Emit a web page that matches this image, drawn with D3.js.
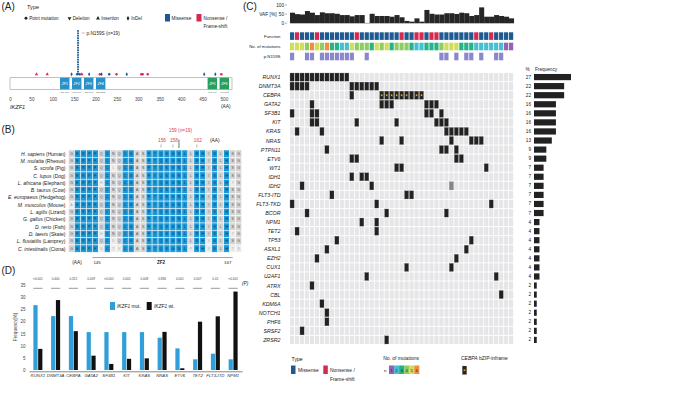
<!DOCTYPE html>
<html>
<head>
<meta charset="utf-8">
<script src="https://cdn.jsdelivr.net/npm/d3@7"></script>
<style>
  body { margin: 0; background: #fff; }
  svg { display: block; font-family: "Liberation Sans", Arial, sans-serif; }
</style>
</head>
<body>
<svg id="fig" width="675" height="406"></svg>
<script>
// ---- (A) IKZF1 protein ----
const aaTicks = [0, 50, 100, 150, 200, 250, 300, 350, 400, 450, 500];
const proteinLength = 519;
const zfNames = ["ZF1", "ZF2", "ZF3", "ZF4", "ZF5", "ZF6"];
const zfStart = [117, 145, 173, 201, 462, 490];
const zfEnd = [139, 167, 195, 223, 484, 512];
const mutAA = [62, 87, 144, 157, 163, 168, 185, 210, 214, 232, 249, 273, 307, 310, 322, 454, 480, 494];
const mutType = ["Insertion", "Insertion", "InDel", "Point mutation", "Point mutation", "Insertion",
  "InDel", "Point mutation", "InDel", "Point mutation", "Point mutation", "InDel",
  "Point mutation", "Point mutation", "Point mutation", "InDel", "InDel", "Point mutation"];
const mutFunc = ["Nonsense", "Nonsense", "Missense", "Missense", "Missense", "Nonsense",
  "Missense", "Nonsense", "Missense", "Missense", "Nonsense", "Missense",
  "Nonsense", "Nonsense", "Nonsense", "Missense", "Missense", "Nonsense"];
const hotspotAA = 159;
const hotspotN = 19;

// ---- (B) alignment ----
const speciesSci = ["H. sapiens", "M. mulatta", "S. scrofa", "C. lupus", "L. africana", "B. taurus",
  "E. europaeus", "M. musculus", "L. agilis", "G. gallus", "D. rerio", "D. laevis", "L. fluviatilis", "C. intestinalis"];
const speciesCommon = ["Human", "Rhesus", "Pig", "Dog", "Elephant", "Cow", "Hedgehog", "Mouse",
  "Lizard", "Chicken", "Fish", "Skate", "Lamprey", "Ciona"];
const alignSeqs = [
  "GERPFQCNQCGASFTQKGNLLRHIKLHSG",
  "GERPFQCNQCGASFTQKGNLLRHIKLHSG",
  "GERPFQCLQCGASFTQKGNLLRHIKLHSG",
  "GERPFQCNQCGASFTQKGNLLRHIKLHSG",
  "GERPFHCNQCGASFTQKGNLLRHIKLHTG",
  "GERPFQCNQCGASFTQKGNLLRHIKLHSG",
  "GERPFQCNQCGASFTQKGNLLRHIKLHSG",
  "AERPFQCNQCGASFTQKGNLLRHIKLHSG",
  "GERPFQCNQCGASFTQKGNLLRHIKLHSG",
  "GERPFQCNQCGASFTQKGNLLRHIKLHSG",
  "GERPFQCNQCGASFTQKGNLLRHIKLHSG",
  "GERPFHCNQCGASFTQKGNLLRHIKLHTG",
  "GERPFQCDQCGASFTQKGNLLRHVKLHSG",
  "GERPFSCTVCGASFTQKGNLPRHVKLHTS"
];
const alignStart = 141;
const conserved = "01111010011001111111011010100";
const markedAA = [156, 158, 162];

// ---- (C) oncoprint ----
const nPatients = 45;
const vaf = [58, 50, 48, 67, 58, 45, 60, 55, 55, 52, 45, 45, 38, 45, 45, 2, 52, 40, 40, 40, 36, 45, 33,
  13, 9, 27, 9, 73, 52, 48, 48, 55, 55, 51, 58, 55, 40, 45, 87, 36, 36, 45, 40, 36, 27];
const nonsenseCols = [1, 5, 13, 22, 25, 26, 28, 29, 37, 40];
const nMutations = [5, 5, 5, 4, 6, 5, 4, 6, 3, 3, 2, 2, 5, 4, 4, 4, 3, 5, 4, 5, 3, 4, 4, 4, 3, 2, 2,
  3, 3, 3, 4, 5, 5, 5, 3, 3, 3, 2, 2, 2, 2, 2, 2, 1, 1];
const n159sCols = [0, 3, 4, 6, 7, 8, 9, 10, 11, 12, 15, 30, 31, 33, 35, 36, 38, 41, 42];
const cGenes = ["RUNX1", "DNMT3A", "CEBPA", "GATA2", "SF3B1", "KIT", "KRAS", "NRAS", "PTPN11", "ETV6",
  "WT1", "IDH1", "IDH2", "FLT3-ITD", "FLT3-TKD", "BCOR", "NPM1", "TET2", "TP53", "ASXL1", "EZH2",
  "CUX1", "U2AF1", "ATRX", "CBL", "KDM6A", "NOTCH1", "PHF6", "SRSF2", "ZRSR2"];
const cFreq = [27, 22, 22, 16, 16, 16, 16, 13, 9, 9, 7, 7, 7, 7, 7, 7, 4, 4, 4, 4, 4, 4, 4, 2, 2, 2, 2, 2, 2, 2];
const cMutCols = [
  [0, 1, 2, 3, 4, 5, 6, 7, 8, 9, 10, 11],
  [0, 1, 2, 3, 12, 13, 14, 15, 16, 17],
  [12, 18, 19, 20, 21, 22, 23, 24, 25, 26],
  [4, 18, 19, 20, 27, 28, 29],
  [0, 4, 5, 27, 28, 30],
  [4, 5, 13, 21, 29, 30, 31],
  [1, 6, 31, 32, 33, 34, 35],
  [18, 22, 32, 36, 37, 38],
  [7, 30, 31, 33],
  [12, 13, 33, 34],
  [21, 22, 39],
  [12, 14, 15],
  [2, 16, 32],
  [8, 23, 24],
  [0, 17, 40],
  [3, 19, 31],
  [14, 17],
  [1, 17],
  [9, 36],
  [7, 35],
  [5, 33],
  [23, 32],
  [15, 41],
  [4],
  [42],
  [6],
  [7],
  [7],
  [2],
  [19]
];
const cebpaInframeCols = [18, 19, 20, 21, 22, 23, 25, 26];
const subclonalCells = [["IDH2", 32]];

// ---- (D) co-mutation frequency ----
const dGenes = ["RUNX1", "DNMT3A", "CEBPA", "GATA2", "SF3B1", "KIT", "KRAS", "NRAS", "ETV6", "TET2", "FLT3-ITD", "NPM1"];
const dMut = [26.7, 22.2, 22.2, 15.6, 15.6, 15.6, 15.6, 13.3, 8.9, 4.4, 6.7, 4.4];
const dWt = [8.7, 28.8, 16.0, 5.9, 2.5, 4.6, 4.8, 15.7, 0.7, 19.9, 22.1, 32.3];
const dP = ["<0.001", "0.400", "0.312", "0.009", "<0.001", "0.005", "0.008", "0.836", "0.001", "0.007", "0.01", "<0.001"];
const dTicks = [0, 5, 10, 15, 20, 25, 30, 35];

const missenseColor = "#1d5a92";
const nonsenseColor = "#d6294f";
const zfBlue = "#2a90c9";
const zfGreen = "#27a05d";
const mutCountColors = ["#9660b4", "#48bfd0", "#27b38a", "#8fcd64", "#d3dd5c", "#f28c3f"];
const textColor = "#222";

const svg = d3.select("#fig");
svg.append("rect").attr("width", 675).attr("height", 406).attr("fill", "#fff");

function txt(g, x, y, s, size, anchor) {
  return g.append("text")
    .attr("x", x).attr("y", y)
    .attr("font-size", size)
    .attr("fill", textColor)
    .attr("text-anchor", anchor || "start")
    .attr("dominant-baseline", "central")
    .text(s);
}

function symbolPath(type, size) {
  let shape = d3.symbolCircle;
  if (type === "Insertion" || type === "Deletion") shape = d3.symbolTriangle;
  if (type === "InDel") shape = d3.symbolDiamond;
  return d3.symbol().type(shape).size(size)();
}

// ================= (A) =================
const gA = svg.append("g");
txt(gA, 1.5, 6.5, "(A)", 10);
txt(gA, 27, 6.5, "Type", 5.6);

const legendTypes = ["Point mutation", "Deletion", "Insertion", "InDel"];
const legendTypeX = [26, 69.5, 98, 128];
legendTypes.forEach(function (t, i) {
  gA.append("path")
    .attr("d", symbolPath(t, 6.5))
    .attr("transform", "translate(" + legendTypeX[i] + ",18.3)" + (t === "Deletion" ? " rotate(180)" : ""))
    .attr("fill", "#222");
  txt(gA, legendTypeX[i] + 3.2, 18.3, t, 4.6);
});

gA.append("rect").attr("x", 165).attr("y", 14).attr("width", 5).attr("height", 7.5).attr("fill", missenseColor);
txt(gA, 171.5, 18, "Missense", 4.7);
gA.append("rect").attr("x", 196.5).attr("y", 14).attr("width", 5).attr("height", 7.5).attr("fill", nonsenseColor);
txt(gA, 203.5, 18, "Nonsense /", 4.7);
txt(gA, 203.5, 26, "Frame-shift", 4.7);

const xAA = d3.scaleLinear().domain([0, proteinLength]).range([10, 232]);

gA.append("rect")
  .attr("x", xAA(0)).attr("y", 77.7)
  .attr("width", xAA(proteinLength) - xAA(0)).attr("height", 11.6)
  .attr("fill", "#fff").attr("stroke", "#9a9a9a").attr("stroke-width", 0.6);

zfNames.forEach(function (name, i) {
  let x0 = xAA(zfStart[i]), x1 = xAA(zfEnd[i]);
  gA.append("rect")
    .attr("x", x0).attr("y", 77.7)
    .attr("width", x1 - x0).attr("height", 11.6)
    .attr("fill", i < 4 ? zfBlue : zfGreen);
  gA.append("text")
    .attr("x", (x0 + x1) / 2).attr("y", 83.5)
    .attr("font-size", 3.5).attr("fill", "#fff").attr("font-style", "italic")
    .attr("text-anchor", "middle").attr("dominant-baseline", "central")
    .text(name);
  gA.append("text")
    .attr("x", (x0 + x1) / 2).attr("y", 92.6)
    .attr("font-size", 2.4).attr("fill", "#555")
    .attr("text-anchor", "middle").attr("dominant-baseline", "central")
    .text(zfStart[i] + "  " + zfEnd[i]);
});

const axA = gA.append("g")
  .attr("transform", "translate(0,96)")
  .call(d3.axisBottom(xAA).tickValues(aaTicks).tickSize(0).tickPadding(1.4));
axA.select(".domain").remove();
axA.selectAll("text").attr("font-size", 4.6).attr("fill", "#444").attr("font-family", null);

txt(gA, 10, 106.7, "IKZF1", 5.6).attr("font-style", "italic");
txt(gA, 221, 106.7, "(AA)", 4.8);

mutAA.forEach(function (aa, i) {
  gA.append("path")
    .attr("d", symbolPath(mutType[i], 4.6))
    .attr("transform", "translate(" + xAA(aa) + ",74.2)")
    .attr("fill", mutFunc[i] === "Missense" ? missenseColor : nonsenseColor);
});

d3.range(hotspotN).forEach(function (i) {
  gA.append("rect")
    .attr("x", xAA(hotspotAA) - 0.9).attr("y", 73.3 - i * 2.4)
    .attr("width", 1.8).attr("height", 1.7)
    .attr("fill", missenseColor);
});
gA.append("line")
  .attr("x1", 81.5).attr("x2", 85).attr("y1", 33).attr("y2", 33)
  .attr("stroke", "#666").attr("stroke-width", 0.4);
txt(gA, 86.5, 33, "p.N159S (n=" + hotspotN + ")", 4.7);

// ================= (B) =================
const gB = svg.append("g");
txt(gB, 1.5, 129, "(B)", 10);

const alignCols = d3.range(alignStart, alignStart + conserved.length);
const xAl = d3.scaleBand().domain(alignCols).range([68.5, 68.5 + conserved.length * 5.97]);
const yAl = d3.scaleBand().domain(speciesCommon).range([150, 150 + speciesCommon.length * 7.3]);

speciesCommon.forEach(function (sp, r) {
  let seq = alignSeqs[r];
  let label = gB.append("text")
    .attr("x", 65.5).attr("y", yAl(sp) + yAl.bandwidth() / 2)
    .attr("font-size", 5).attr("fill", textColor)
    .attr("text-anchor", "end").attr("dominant-baseline", "central");
  label.append("tspan").attr("font-style", "italic").text(speciesSci[r]);
  label.append("tspan").text(" (" + sp + ")");

  alignCols.forEach(function (aa, c) {
    let isCons = conserved[c] === "1";
    let same = seq[c] === alignSeqs[0][c];
    let fill = isCons ? (same ? "#1b98d5" : "#9fd2ee") : (same ? "#d3d3d3" : "#ececec");
    gB.append("rect")
      .attr("x", xAl(aa)).attr("y", yAl(sp))
      .attr("width", xAl.bandwidth()).attr("height", yAl.bandwidth())
      .attr("fill", fill).attr("stroke", "#fff").attr("stroke-width", 0.5);
    gB.append("text")
      .attr("x", xAl(aa) + xAl.bandwidth() / 2).attr("y", yAl(sp) + yAl.bandwidth() / 2)
      .attr("font-size", 3.4)
      .attr("fill", isCons ? "#0d2c45" : (same ? "#555" : "#aaa"))
      .attr("text-anchor", "middle").attr("dominant-baseline", "central")
      .text(seq[c]);
  });
});

let hotX = xAl(hotspotAA) + xAl.bandwidth() / 2;
gB.append("text")
  .attr("x", hotX + 1.5).attr("y", 130.5)
  .attr("font-size", 4.8).attr("fill", "#e03a55")
  .attr("text-anchor", "middle").attr("dominant-baseline", "central")
  .text(hotspotAA + " (n=" + hotspotN + ")");
gB.append("rect")
  .attr("x", hotX - 0.7).attr("y", 139.5)
  .attr("width", 1.4).attr("height", 8.5).attr("fill", "#9a9a9a");
markedAA.forEach(function (aa) {
  let cx = xAl(aa) + xAl.bandwidth() / 2;
  gB.append("text")
    .attr("x", cx + 1).attr("y", 140.3)
    .attr("font-size", 4.8).attr("fill", "#e03a55")
    .attr("text-anchor", "middle").attr("dominant-baseline", "central")
    .text(aa);
  gB.append("line")
    .attr("x1", cx).attr("x2", cx).attr("y1", 144.5).attr("y2", 147.5)
    .attr("stroke", "#666").attr("stroke-width", 0.5);
});
txt(gB, 210, 140.3, "(AA)", 4.8);

let zf2Left = xAl(zfStart[1]);
let zf2Right = xAl(zfEnd[1]) + xAl.bandwidth();
gB.append("line")
  .attr("x1", zf2Left).attr("x2", zf2Right + 3).attr("y1", 257.5).attr("y2", 257.5)
  .attr("stroke", "#666").attr("stroke-width", 0.6);
txt(gB, 77, 262, "(AA)", 4.8, "middle");
txt(gB, zf2Left + 1, 262, zfStart[1], 4.4);
txt(gB, (zf2Left + zf2Right) / 2, 262, "ZF2", 4.6, "middle").attr("font-weight", "bold");
txt(gB, zf2Right - 2, 262, zfEnd[1], 4.4, "middle");

// ================= (C) =================
const gC = svg.append("g");
txt(gC, 243, 6.5, "(C)", 10);

const xC = d3.scaleBand().domain(d3.range(nPatients)).range([290, 514]);
const yC = d3.scaleBand().domain(cGenes).range([73, 344]).paddingInner(0.1);
const cw = xC.bandwidth() - 0.8;

const yVaf = d3.scaleLinear().domain([0, 100]).range([23.3, 5]);
gC.selectAll(".vaf")
  .data(vaf)
  .enter().append("rect")
  .attr("x", (d, i) => xC(i))
  .attr("y", d => yVaf(d))
  .attr("width", xC.bandwidth() + 0.05)
  .attr("height", d => yVaf(0) - yVaf(d))
  .attr("fill", "#262626");
[0, 50, 100].forEach(function (t) {
  txt(gC, 284, yVaf(t), t, 4.7, "end");
  gC.append("line").attr("x1", 285).attr("x2", 287).attr("y1", yVaf(t)).attr("y2", yVaf(t))
    .attr("stroke", "#444").attr("stroke-width", 0.4);
});
txt(gC, 276.5, 14, "VAF [%]", 4.8, "end");

const trackY = [32.3, 42.7, 52.7];
const trackH = 7.6;
txt(gC, 280.5, trackY[0] + trackH / 2, "Function", 4.3, "end");
txt(gC, 280.5, trackY[1] + trackH / 2, "No. of mutations", 4.3, "end");
txt(gC, 280.5, trackY[2] + trackH / 2, "p.N159S", 4.3, "end");

d3.range(nPatients).forEach(function (i) {
  gC.append("rect")
    .attr("x", xC(i)).attr("y", trackY[0]).attr("width", cw).attr("height", trackH)
    .attr("fill", nonsenseCols.indexOf(i) >= 0 ? nonsenseColor : missenseColor);
  gC.append("rect")
    .attr("x", xC(i)).attr("y", trackY[1]).attr("width", cw).attr("height", trackH)
    .attr("fill", mutCountColors[nMutations[i] - 1]);
  if (n159sCols.indexOf(i) >= 0) {
    gC.append("rect")
      .attr("x", xC(i)).attr("y", trackY[2]).attr("width", cw).attr("height", trackH)
      .attr("fill", "#8b87cc");
  }
});

cGenes.forEach(function (gene, r) {
  txt(gC, 280.5, yC(gene) + yC.bandwidth() / 2, gene, 5.3, "end").attr("font-style", "italic");
  d3.range(nPatients).forEach(function (i) {
    let hit = cMutCols[r].indexOf(i) >= 0;
    let sub = subclonalCells.some(s => s[0] === gene && s[1] === i);
    gC.append("rect")
      .attr("x", xC(i)).attr("y", yC(gene))
      .attr("width", cw).attr("height", yC.bandwidth())
      .attr("fill", sub ? "#858585" : (hit ? "#222" : "#e6e6e8"))
      .attr("stroke", hit || sub ? "#8a8a8a" : "none").attr("stroke-width", 0.3);
    if (gene === "CEBPA" && cebpaInframeCols.indexOf(i) >= 0) {
      gC.append("path")
        .attr("d", d3.symbol().type(d3.symbolStar).size(2.6)())
        .attr("transform", "translate(" + (xC(i) + cw / 2) + "," + (yC(gene) + yC.bandwidth() / 2) + ")")
        .attr("fill", "#f5b316");
    }
  });
});

const xFreq = d3.scaleLinear().domain([0, 27]).range([534, 571]);
txt(gC, 525.5, 69, "%", 4.7);
txt(gC, 535, 69, "Frequency", 4.7);
cGenes.forEach(function (gene, r) {
  let cy = yC(gene) + yC.bandwidth() / 2;
  txt(gC, 531, cy, cFreq[r], 4.7, "end");
  gC.append("rect")
    .attr("x", xFreq(0)).attr("y", cy - 3.1)
    .attr("width", xFreq(cFreq[r]) - xFreq(0)).attr("height", 6.2)
    .attr("fill", "#222");
});

// legend
txt(gC, 291.5, 358.5, "Type", 5.2);
gC.append("rect").attr("x", 291).attr("y", 365.5).attr("width", 4.5).attr("height", 8.5).attr("fill", missenseColor);
txt(gC, 298, 370, "Missense", 4.9);
gC.append("rect").attr("x", 323.3).attr("y", 365.5).attr("width", 4.5).attr("height", 8.5).attr("fill", nonsenseColor);
txt(gC, 330, 370, "Nonsense /", 4.9);
txt(gC, 330, 379.3, "Frame-shift", 4.9);

txt(gC, 383.3, 358.5, "No. of mutations", 4.9);
txt(gC, 385.3, 370, "n", 4.4, "middle");
mutCountColors.forEach(function (col, i) {
  gC.append("rect").attr("x", 389 + i * 5.05).attr("y", 365.5).attr("width", 5.05).attr("height", 8.5).attr("fill", col);
  txt(gC, 389 + i * 5.05 + 2.5, 370, i + 1, 4.3, "middle");
});

let cebLegend = gC.append("text").attr("x", 461).attr("y", 358).attr("font-size", 5)
  .attr("fill", textColor).attr("dominant-baseline", "central");
cebLegend.append("tspan").attr("font-style", "italic").text("CEBPA");
cebLegend.append("tspan").text(" bZIP-inframe");
gC.append("rect").attr("x", 462.3).attr("y", 366).attr("width", 4.4).attr("height", 8.5)
  .attr("fill", "#222").attr("stroke", "#8a8a8a").attr("stroke-width", 0.3);
gC.append("path")
  .attr("d", d3.symbol().type(d3.symbolStar).size(2.6)())
  .attr("transform", "translate(464.5,370.2)")
  .attr("fill", "#f5b316");

// ================= (D) =================
const gD = svg.append("g");
txt(gD, 1.5, 270, "(D)", 10);

const xD = d3.scaleBand().domain(dGenes).range([29, 242]);
const xSub = d3.scaleBand().domain(["mut", "wt"]).range([0, 9]).paddingInner(0.12);
const yD = d3.scaleLinear().domain([0, 35]).range([370, 285]);
const dBlue = "#2e9fd8";

const axD = gD.append("g")
  .attr("transform", "translate(27,0)")
  .call(d3.axisLeft(yD).tickValues(dTicks).tickSize(0).tickPadding(1.5));
axD.select(".domain").remove();
axD.selectAll("text").attr("font-size", 4.5).attr("fill", "#444").attr("font-family", null);

gD.append("text")
  .attr("transform", "translate(15,327) rotate(-90)")
  .attr("font-size", 4.5).attr("fill", "#444")
  .attr("text-anchor", "middle").attr("dominant-baseline", "central")
  .text("Frequency[%]");

dGenes.forEach(function (gene, i) {
  let c = xD(gene) + xD.bandwidth() / 2;
  gD.append("rect")
    .attr("x", c - 4.5 + xSub("mut")).attr("y", yD(dMut[i]))
    .attr("width", xSub.bandwidth()).attr("height", yD(0) - yD(dMut[i]))
    .attr("fill", dBlue);
  gD.append("rect")
    .attr("x", c - 4.5 + xSub("wt")).attr("y", yD(dWt[i]))
    .attr("width", xSub.bandwidth()).attr("height", yD(0) - yD(dWt[i]))
    .attr("fill", "#111");
  txt(gD, c, 279, dP[i], 3.1, "middle").attr("fill", "#444");
  gD.append("line")
    .attr("x1", c - 4.6).attr("x2", c + 4.6).attr("y1", 288.3).attr("y2", 288.3)
    .attr("stroke", "#333").attr("stroke-width", 0.5);
});
txt(gD, 242, 283, "(P)", 4.8).attr("font-style", "italic");

const axDx = gD.append("g")
  .attr("transform", "translate(0," + (yD(0) + 1.3) + ")")
  .call(d3.axisBottom(xD).tickSize(0).tickSizeOuter(0).tickPadding(2.2));
axDx.select(".domain").attr("stroke", "#333").attr("stroke-width", 0.6);
axDx.selectAll("text").attr("font-size", 4.3).attr("font-style", "italic").attr("fill", "#333").attr("font-family", null);

gD.append("rect").attr("x", 110).attr("y", 302).attr("width", 5).attr("height", 8).attr("fill", dBlue);
let lm = gD.append("text").attr("x", 117).attr("y", 306).attr("font-size", 4.8).attr("fill", textColor)
  .attr("dominant-baseline", "central");
lm.append("tspan").attr("font-style", "italic").text("IKZF1");
lm.append("tspan").text(" mut.");
gD.append("rect").attr("x", 146.7).attr("y", 302).attr("width", 5).attr("height", 8).attr("fill", "#111");
let lw = gD.append("text").attr("x", 154).attr("y", 306).attr("font-size", 4.8).attr("fill", textColor)
  .attr("dominant-baseline", "central");
lw.append("tspan").attr("font-style", "italic").text("IKZF1");
lw.append("tspan").text(" wt.");
</script>
</body>
</html>
